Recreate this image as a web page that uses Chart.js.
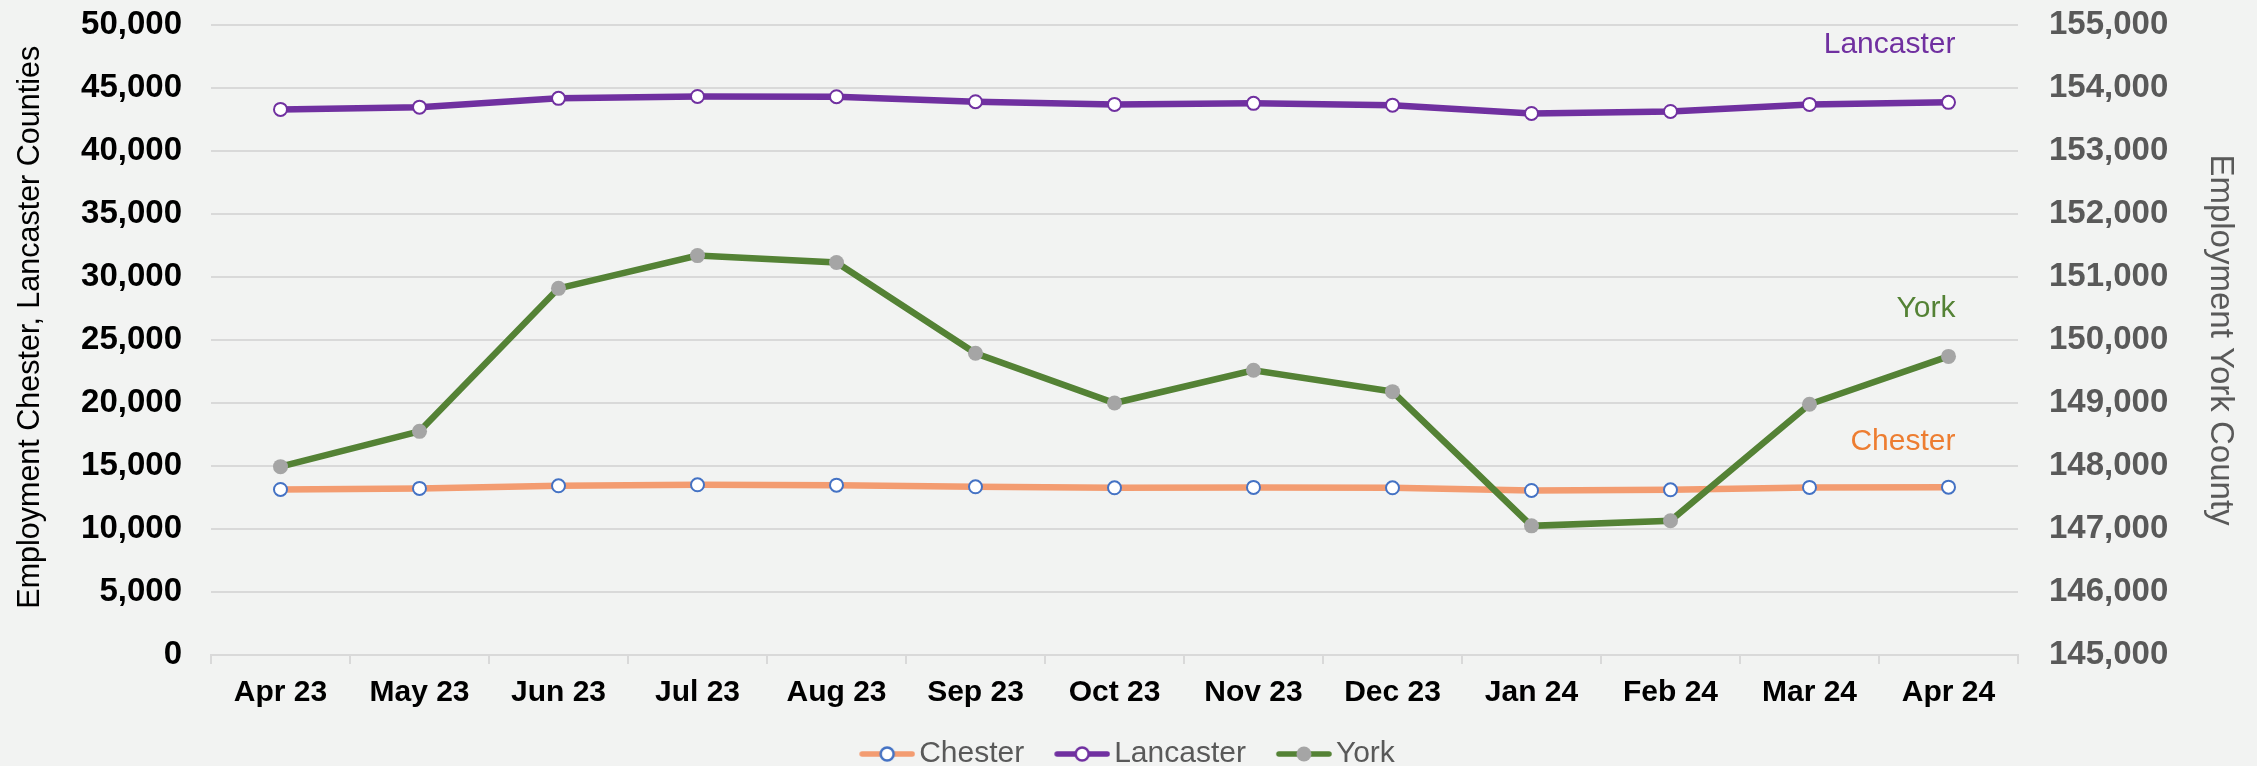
<!DOCTYPE html>
<html>
<head>
<meta charset="utf-8">
<script src="https://cdn.jsdelivr.net/npm/chart.js@4.4.1/dist/chart.umd.min.js"></script>
<style>
  html, body { margin: 0; padding: 0; background: #F2F3F2; }
  #wrap { width: 2257px; height: 766px; }
</style>
</head>
<body>
<div id="wrap"><canvas id="c" width="2257" height="766"></canvas></div>
<script>
const categories = ['Apr 23','May 23','Jun 23','Jul 23','Aug 23','Sep 23','Oct 23','Nov 23','Dec 23','Jan 24','Feb 24','Mar 24','Apr 24'];
const chester   = [13140, 13220, 13430, 13510, 13480, 13350, 13270, 13300, 13270, 13060, 13110, 13300, 13320];
const lancaster = [43300, 43480, 44180, 44330, 44310, 43910, 43700, 43780, 43640, 42980, 43140, 43700, 43860];
const york      = [147990, 148550, 150820, 151340, 151230, 149790, 149000, 149520, 149180, 147050, 147130, 148980, 149740];
const leftTitle = 'Employment Chester, Lancaster Counties';
const rightTitle = 'Employment York County';

const FONT = "'Liberation Sans', Arial, sans-serif";
const C_CHESTER = '#F39C71', C_CHESTER_PT = '#4472C4';
const C_LANC = '#7030A0';
const C_YORK = '#548235', C_YORK_PT = '#A5A5A5';
const GRID = '#D9D9D9';

const LEG_PAD = 5, LEG_BOX = 70, LEG_IMG = 92;
function swatch(lineColor, ptFill, ptBorder) {
  const W = LEG_IMG, H = 22, S = 56;
  const c = document.createElement('canvas');
  c.width = W; c.height = H;
  const g = c.getContext('2d');
  g.strokeStyle = lineColor; g.lineWidth = 5.5; g.lineCap = 'round';
  g.beginPath(); g.moveTo(W - S + 3, H/2); g.lineTo(W - 3, H/2); g.stroke();
  g.beginPath(); g.arc(W - S/2, H/2, ptBorder ? 6.5 : 7.5, 0, Math.PI*2);
  g.fillStyle = ptFill; g.fill();
  if (ptBorder) { g.lineWidth = 2.5; g.strokeStyle = ptBorder; g.stroke(); }
  return c;
}
const legendStyles = [
  swatch(C_CHESTER, '#FFFFFF', C_CHESTER_PT),
  swatch(C_LANC, '#FFFFFF', C_LANC),
  swatch(C_YORK, C_YORK_PT, null)
];

const bgPlugin = {
  id: 'bg',
  beforeDraw(chart) {
    const ctx = chart.ctx;
    ctx.save(); ctx.fillStyle = '#F2F3F2';
    ctx.fillRect(0, 0, chart.width, chart.height); ctx.restore();
  }
};

const seriesLabels = [
  { text: 'Lancaster', color: C_LANC, value: 47780 },
  { text: 'York', color: C_YORK, value: 26830 },
  { text: 'Chester', color: '#ED7D31', value: 16270 }
];
const labelPlugin = {
  id: 'seriesLabels',
  afterDatasetsDraw(chart) {
    const ctx = chart.ctx;
    const xs = chart.scales.x, ys = chart.scales.y;
    const xr = xs.getPixelForValue(categories.length - 1) + 7;
    ctx.save();
    ctx.font = '30px ' + FONT;
    ctx.textAlign = 'right';
    ctx.textBaseline = 'alphabetic';
    seriesLabels.forEach(l => {
      ctx.fillStyle = l.color;
      ctx.fillText(l.text, xr, ys.getPixelForValue(l.value));
    });
    ctx.restore();
  }
};

new Chart(document.getElementById('c'), {
  type: 'line',
  data: {
    labels: categories,
    datasets: [
      { label: 'Chester', data: chester, yAxisID: 'y', borderColor: C_CHESTER, borderWidth: 6.5,
        pointRadius: 6.5, pointBorderWidth: 2, pointBackgroundColor: '#FFFFFF', pointBorderColor: C_CHESTER_PT, order: 1 },
      { label: 'Lancaster', data: lancaster, yAxisID: 'y', borderColor: C_LANC, borderWidth: 6.5,
        pointRadius: 6.5, pointBorderWidth: 2, pointBackgroundColor: '#FFFFFF', pointBorderColor: C_LANC, order: 2 },
      { label: 'York', data: york, yAxisID: 'y1', borderColor: C_YORK, borderWidth: 6.5,
        pointRadius: 7.5, pointBorderWidth: 0, pointBackgroundColor: C_YORK_PT, pointBorderColor: C_YORK_PT, order: 0 }
    ]
  },
  options: {
    responsive: false,
    animation: false,
    layout: { padding: { left: 12, right: 17, top: 25, bottom: 0 } },
    plugins: {
      tooltip: { enabled: false },
      legend: {
        position: 'bottom',
        fullSize: false,
        maxHeight: 32,
        labels: {
          usePointStyle: true,
          pointStyleWidth: LEG_BOX,
          padding: LEG_PAD,
          color: '#595959',
          font: { family: FONT, size: 30 },
          generateLabels(chart) {
            return chart.data.datasets.map((ds, i) => ({
              text: ds.label, pointStyle: legendStyles[i], fillStyle: 'transparent',
              strokeStyle: 'transparent', lineWidth: 0, fontColor: '#595959', hidden: false, datasetIndex: i
            }));
          }
        }
      }
    },
    scales: {
      x: {
        offset: true,
        grid: { display: true, drawOnChartArea: false, drawTicks: true, tickLength: 9, color: GRID, lineWidth: 2, offset: true },
        border: { display: true, color: GRID, width: 2 },
        ticks: { color: '#000000', font: { family: FONT, size: 30, weight: 'bold' }, padding: 11, maxRotation: 0 },
        afterFit(s) { s.height = 79; }
      },
      y: {
        position: 'left', min: 0, max: 50000,
        ticks: { stepSize: 5000, color: '#000000', font: { family: FONT, size: 33, weight: 'bold' }, padding: 0 },
        grid: { color: GRID, lineWidth: 2, drawTicks: true, tickLength: 29, tickColor: 'rgba(0,0,0,0)' },
        border: { display: false },
        title: { display: true, text: '   ' + leftTitle, color: '#000000', font: { family: FONT, size: 30.5 }, padding: 0 },
        afterFit(s) { s.width = 199; }
      },
      y1: {
        position: 'right', min: 145000, max: 155000,
        ticks: { stepSize: 1000, color: '#595959', font: { family: FONT, size: 33, weight: 'bold' }, padding: 0 },
        grid: { display: false, drawTicks: true, tickLength: 31, drawOnChartArea: false, tickColor: 'rgba(0,0,0,0)' },
        border: { display: false },
        title: { display: true, text: rightTitle, color: '#595959', font: { family: FONT, size: 33 }, padding: 0 },
        afterFit(s) { s.width = 222; }
      }
    }
  },
  plugins: [bgPlugin, labelPlugin]
});
</script>
</body>
</html>
